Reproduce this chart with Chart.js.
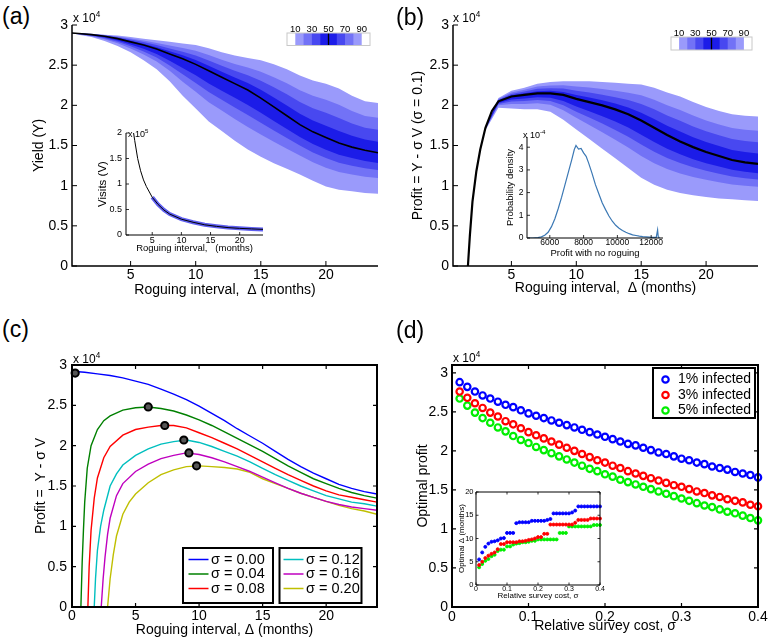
<!DOCTYPE html>
<html><head><meta charset="utf-8"><title>Roguing interval figure</title>
<script src="https://cdn.jsdelivr.net/npm/chart.js@4.4.1/dist/chart.umd.min.js"></script>
<style>
html,body{margin:0;padding:0;background:#fff;}
#wrap{position:relative;width:770px;height:642px;overflow:hidden;background:#fff;font-family:'Liberation Sans',Arial,sans-serif;color:#000;}
#wrap canvas{position:absolute;}
.t{position:absolute;white-space:pre;line-height:1;color:#000;}
.t sup{font-size:0.68em;vertical-align:0.6em;line-height:0;}
</style></head><body><div id="wrap"></div>
<script>
// ---------------- DATA ----------------
// Panel (a): yield percentiles (x 10^4) vs roguing interval
const monthsA = [0.5,1,2,3,4,5,6,7,8,9,10,11,12,13,14,15,16,17,18,19,20,21,22,23,24];
const yieldP90 = [2.90,2.90,2.89,2.88,2.87,2.85,2.83,2.81,2.79,2.77,2.75,2.71,2.66,2.62,2.59,2.56,2.51,2.45,2.37,2.31,2.27,2.21,2.12,2.05,2.03];
const yieldP80 = [2.90,2.90,2.887,2.874,2.858,2.832,2.806,2.777,2.745,2.713,2.678,2.626,2.567,2.515,2.470,2.419,2.351,2.276,2.187,2.118,2.069,2.006,1.928,1.867,1.844];
const yieldP70 = [2.90,2.897,2.885,2.869,2.848,2.818,2.787,2.751,2.709,2.667,2.620,2.559,2.493,2.431,2.374,2.306,2.224,2.137,2.041,1.964,1.908,1.843,1.774,1.721,1.695];
const yieldP60 = [2.90,2.896,2.882,2.864,2.839,2.803,2.768,2.724,2.673,2.622,2.563,2.492,2.418,2.347,2.278,2.193,2.097,1.998,1.894,1.811,1.747,1.680,1.621,1.574,1.546];
const yieldP50 = [2.90,2.895,2.88,2.86,2.83,2.79,2.75,2.70,2.64,2.58,2.51,2.43,2.35,2.27,2.19,2.09,1.98,1.87,1.76,1.67,1.60,1.53,1.48,1.44,1.41];
const yieldP40 = [2.90,2.891,2.872,2.845,2.808,2.758,2.703,2.638,2.555,2.465,2.373,2.273,2.183,2.093,2.005,1.908,1.805,1.705,1.605,1.518,1.448,1.385,1.343,1.308,1.283];
const yieldP30 = [2.90,2.889,2.867,2.835,2.792,2.735,2.670,2.595,2.497,2.387,2.279,2.165,2.069,1.972,1.879,1.783,1.686,1.593,1.500,1.414,1.344,1.286,1.249,1.217,1.196];
const yieldP20 = [2.90,2.886,2.861,2.823,2.774,2.709,2.632,2.545,2.429,2.295,2.169,2.039,1.935,1.830,1.731,1.637,1.546,1.461,1.376,1.292,1.222,1.170,1.139,1.111,1.094];
const yieldP10 = [2.90,2.88,2.85,2.80,2.74,2.66,2.56,2.45,2.30,2.12,1.96,1.80,1.68,1.56,1.45,1.36,1.28,1.21,1.14,1.06,0.99,0.95,0.93,0.91,0.90];
// Inset (a): visits (x 10^5)
const visitsX = [1.8,2,2.5,3,3.5,4,5,6,7,8,10,12,14,16,18,20,22,24];
const visitsV = [2.0,1.85,1.50,1.26,1.08,0.95,0.74,0.60,0.49,0.41,0.31,0.25,0.20,0.17,0.145,0.13,0.12,0.11];

// Panel (b): profit percentiles (x 10^4), sigma = 0.1
const medianBX = [1.65,1.8,2,2.3,2.6,3,3.5,4,5,6,7,8,9,10,11,12,13,14,15,16,17,18,19,20,21,22,23,24];
const medianBY = [0,0.38,0.80,1.18,1.45,1.72,1.93,2.05,2.11,2.13,2.15,2.15,2.13,2.08,2.04,2.00,1.95,1.89,1.81,1.72,1.63,1.55,1.48,1.42,1.37,1.32,1.29,1.27];
const monthsB = [3,4,5,6,7,8,9,10,11,12,13,14,15,16,17,18,19,20,21,22,23,24];
const profitP90 = [1.73,2.09,2.18,2.22,2.27,2.29,2.30,2.30,2.30,2.29,2.28,2.27,2.26,2.22,2.16,2.11,2.04,1.98,1.93,1.89,1.87,1.86];
const profitP80 = [1.727,2.078,2.159,2.193,2.234,2.248,2.249,2.234,2.222,2.203,2.181,2.156,2.125,2.070,2.001,1.942,1.872,1.812,1.762,1.719,1.696,1.683];
const profitP70 = [1.725,2.068,2.142,2.171,2.205,2.214,2.208,2.181,2.160,2.133,2.102,2.065,2.017,1.950,1.874,1.808,1.738,1.678,1.628,1.582,1.557,1.541];
const profitP60 = [1.722,2.059,2.125,2.150,2.176,2.181,2.167,2.128,2.097,2.064,2.023,1.974,1.909,1.830,1.747,1.673,1.603,1.543,1.493,1.445,1.418,1.400];
const profitP50 = [1.72,2.05,2.11,2.13,2.15,2.15,2.13,2.08,2.04,2.00,1.95,1.89,1.81,1.72,1.63,1.55,1.48,1.42,1.37,1.32,1.29,1.27];
const profitP40 = [1.713,2.030,2.073,2.085,2.100,2.093,2.053,1.985,1.925,1.865,1.798,1.723,1.633,1.543,1.460,1.390,1.330,1.280,1.238,1.198,1.173,1.155];
const profitP30 = [1.707,2.016,2.047,2.054,2.066,2.053,2.000,1.920,1.847,1.773,1.694,1.609,1.512,1.422,1.344,1.281,1.228,1.185,1.147,1.114,1.093,1.077];
const profitP20 = [1.701,2.000,2.017,2.018,2.026,2.007,1.938,1.844,1.755,1.665,1.572,1.475,1.370,1.280,1.208,1.153,1.108,1.073,1.041,1.016,1.000,0.985];
const profitP10 = [1.69,1.97,1.96,1.95,1.95,1.92,1.82,1.70,1.58,1.46,1.34,1.22,1.10,1.01,0.95,0.91,0.88,0.86,0.84,0.83,0.82,0.81];
// Inset (b): histogram of profit with no roguing (density x 10^-4)
const noRogueProfit = [4700,5000,5300,5500,5700,5900,6100,6300,6500,6700,6900,7100,7300,7450,7550,7700,7850,8000,8150,8300,8500,8700,8900,9100,9300,9500,9700,9900,10100,10300,10500,10700,10900,11100,11300,11500,11700,11900,12100,12300,12380,12420,12460,12500];
const noRogueDensity = [0,0,0.02,0.05,0.12,0.25,0.5,0.85,1.3,1.8,2.35,2.9,3.45,3.9,4.08,3.92,3.95,3.75,3.6,3.3,2.85,2.35,1.95,1.55,1.25,0.97,0.74,0.56,0.43,0.33,0.25,0.19,0.14,0.11,0.08,0.06,0.05,0.04,0.03,0.03,0.36,0.05,0.02,0];

// Panel (c): profit curves for several survey costs (x 10^4)
const sigmaLabels = ['σ = 0.00','σ = 0.04','σ = 0.08','σ = 0.12','σ = 0.16','σ = 0.20'];
const tail = [10,11,12,13,14,15,16,17,18,19,20,21,22,23,24];
const s000X = [0.25,1,2,3,4,5,6,7,8,9].concat(tail);
const s000Y = [2.92,2.91,2.89,2.87,2.84,2.80,2.76,2.70,2.64,2.57,2.49,2.40,2.31,2.21,2.12,2.03,1.93,1.83,1.74,1.66,1.59,1.52,1.47,1.43,1.40];
const s004X = [0.7,0.8,0.9,1.0,1.2,1.5,2,2.5,3,4,5,6,7,8,9].concat(tail);
const s004Y = [0,0.55,0.95,1.3,1.72,2.0,2.2,2.31,2.37,2.44,2.47,2.48,2.46,2.43,2.38,2.32,2.25,2.17,2.09,2.01,1.93,1.84,1.75,1.67,1.59,1.53,1.47,1.42,1.38,1.35];
const s008X = [1.25,1.35,1.5,1.75,2,2.5,3,4,5,6,7,8,9].concat(tail);
const s008Y = [0,0.5,0.95,1.35,1.6,1.85,1.99,2.13,2.20,2.23,2.25,2.25,2.22,2.16,2.10,2.03,1.96,1.88,1.80,1.72,1.64,1.57,1.50,1.44,1.39,1.36,1.33,1.30];
const s012X = [1.75,1.85,2,2.25,2.5,3,3.5,4,5,6,7,8,9].concat(tail);
const s012Y = [0,0.35,0.7,1.0,1.2,1.5,1.65,1.76,1.88,1.96,2.02,2.05,2.07,2.04,1.99,1.93,1.87,1.80,1.72,1.64,1.57,1.50,1.44,1.38,1.34,1.30,1.28,1.25];
const s016X = [2.3,2.45,2.6,2.8,3,3.5,4,5,6,7,8,9].concat(tail);
const s016Y = [0,0.35,0.62,0.9,1.1,1.38,1.53,1.68,1.77,1.84,1.88,1.91,1.89,1.85,1.80,1.74,1.68,1.61,1.54,1.47,1.41,1.36,1.31,1.27,1.24,1.22,1.20];
const s020X = [2.8,3,3.25,3.5,4,4.5,5,6,7,8,9].concat(tail);
const s020Y = [0,0.35,0.65,0.88,1.15,1.30,1.40,1.54,1.64,1.70,1.74,1.75,1.74,1.73,1.71,1.67,1.59,1.53,1.47,1.41,1.36,1.31,1.26,1.22,1.19,1.15];
const optimaX = [0.25,6,7.3,8.8,9.2,9.8];
const optimaY = [2.90,2.48,2.25,2.07,1.91,1.75];

// Panel (d): optimal profit (x 10^4) vs relative survey cost
const surveyCost = [0.01,0.02,0.03,0.04,0.05,0.06,0.07,0.08,0.09,0.10,0.11,0.12,0.13,0.14,0.15,0.16,0.17,0.18,0.19,0.20,0.21,0.22,0.23,0.24,0.25,0.26,0.27,0.28,0.29,0.30,0.31,0.32,0.33,0.34,0.35,0.36,0.37,0.38,0.39,0.40];
const infLabels = ['1% infected','3% infected','5% infected'];
const optProfit1 = [2.88,2.82,2.76,2.71,2.67,2.63,2.59,2.56,2.52,2.48,2.45,2.42,2.39,2.36,2.33,2.30,2.27,2.24,2.21,2.18,2.15,2.12,2.09,2.07,2.04,2.01,1.98,1.96,1.93,1.90,1.88,1.85,1.83,1.80,1.78,1.76,1.73,1.71,1.69,1.66];
const optProfit3 = [2.76,2.68,2.61,2.55,2.49,2.44,2.38,2.34,2.29,2.24,2.20,2.16,2.12,2.08,2.04,2.00,1.96,1.92,1.88,1.85,1.81,1.78,1.74,1.71,1.68,1.65,1.62,1.59,1.56,1.54,1.51,1.48,1.46,1.43,1.41,1.38,1.36,1.34,1.31,1.29];
const optProfit5 = [2.67,2.58,2.49,2.42,2.36,2.30,2.25,2.19,2.14,2.10,2.05,2.01,1.97,1.93,1.89,1.85,1.81,1.77,1.74,1.70,1.67,1.63,1.60,1.57,1.54,1.51,1.48,1.45,1.42,1.39,1.36,1.33,1.30,1.28,1.25,1.22,1.20,1.17,1.14,1.11];
// Inset (d): optimal interval (months)
const optDelta1 = [5.5,7.0,8.2,8.9,9.3,9.4,9.6,10.0,10.1,11.2,11.2,11.2,13.3,13.5,13.5,13.5,13.5,13.8,13.8,13.8,13.8,13.8,14.0,14.2,15.4,15.4,15.4,15.4,15.4,15.4,15.6,16.0,16.9,16.9,16.9,16.9,16.9,16.9,16.9,16.9];
const optDelta3 = [4.3,5.0,5.8,6.3,6.7,7.0,7.7,8.8,8.8,9.2,9.2,9.2,9.2,9.4,9.4,9.5,9.7,9.8,10.0,10.3,10.3,11.0,11.0,13.0,13.0,13.0,13.0,13.0,13.0,13.0,13.0,13.4,14.0,14.0,14.0,14.0,14.3,14.3,14.3,14.3];
const optDelta5 = [3.8,4.5,5.2,5.6,6.2,6.5,7.3,7.6,7.6,8.3,8.3,8.7,8.9,9.0,9.2,9.2,9.3,9.5,9.5,9.8,9.8,9.8,9.8,9.8,9.8,9.8,11.2,11.2,11.2,12.6,12.6,12.6,12.6,12.6,12.6,12.6,12.6,12.9,12.9,12.9];

// ---------------- STYLE ----------------
const FF = "'Liberation Sans', Arial, Helvetica, sans-serif";
Chart.defaults.font.family = FF;
const C1 = '#9a9afb', C2 = '#7272f6', C3 = '#4848f0', C4 = '#1c1ce8';
const cColors = ['#0000ff','#008000','#ff0000','#00bfbf','#bf00bf','#bfbf00'];
const dColors = ['#0000ff','#ff0000','#00ee00'];
const WRAP = document.getElementById('wrap');

function pts(xs, ys){ return xs.map((x,i)=>({x:x, y:ys[i]})); }

function mkScale(s, axis, size){
  return {
    type:'linear', position: axis==='x' ? 'bottom' : 'left', min:s.min, max:s.max,
    afterBuildTicks: sc => { sc.ticks = s.ticks.map(v=>({value:v})); },
    afterFit: sc => { if(axis==='x') sc.height = size; else sc.width = size; },
    grid:{display:false, drawTicks:false}, border:{display:false},
    ticks:{color:'#000', font:{family:FF, size:s.size}, padding:s.pad, autoSkip:false, maxRotation:0, minRotation:0,
      callback:(v)=>String(v)},
    title:{display:!!s.title, text:s.title, color:'#000', font:{family:FF, size:s.tsize}, padding:0}
  };
}

function drawAxes(chart, o){
  const ctx = chart.ctx, a = chart.chartArea, xs = chart.scales.x, ys = chart.scales.y;
  ctx.save();
  ctx.strokeStyle = '#000'; ctx.lineWidth = o.lw;
  ctx.beginPath();
  if(o.box){ ctx.rect(a.left, a.top, a.right-a.left, a.bottom-a.top); }
  else { ctx.moveTo(a.left, a.top); ctx.lineTo(a.left, a.bottom); ctx.lineTo(a.right, a.bottom); }
  ctx.stroke();
  ctx.lineWidth = o.tlw; ctx.beginPath();
  xs.ticks.forEach(t=>{ const p = xs.getPixelForValue(t.value);
    ctx.moveTo(p, a.bottom); ctx.lineTo(p, a.bottom-o.tick);
    if(o.box){ ctx.moveTo(p, a.top); ctx.lineTo(p, a.top+o.tick); } });
  ys.ticks.forEach(t=>{ const p = ys.getPixelForValue(t.value);
    ctx.moveTo(a.left, p); ctx.lineTo(a.left+o.tick, p);
    if(o.box){ ctx.moveTo(a.right, p); ctx.lineTo(a.right-o.tick, p); } });
  ctx.stroke();
  ctx.restore();
}

function build(spec){
  const [l,t,w,h] = spec.rect, [x0,y0,x1,y1] = spec.plot;
  const cv = document.createElement('canvas');
  cv.width = w; cv.height = h;
  cv.style.left = l+'px'; cv.style.top = t+'px'; cv.style.width = w+'px'; cv.style.height = h+'px';
  WRAP.appendChild(cv);
  const cfg = {
    type:'line',
    data:{datasets:spec.datasets},
    options:{
      responsive:false, animation:false, devicePixelRatio:1,
      layout:{padding:{left:0, top:y0-t, right:l+w-x1, bottom:0}},
      plugins:{legend:{display:false}, tooltip:{enabled:false}},
      elements:{point:{radius:0}, line:{tension:0}},
      scales:{ x: mkScale(spec.x,'x', t+h-y1), y: mkScale(spec.y,'y', x0-l) }
    },
    plugins:[{
      id:'deco',
      beforeDatasetsDraw(chart){ if(spec.whiteBg){ const a=chart.chartArea; chart.ctx.save(); chart.ctx.fillStyle='#fff'; chart.ctx.fillRect(a.left,a.top,a.right-a.left,a.bottom-a.top); chart.ctx.restore(); } },
      afterDraw(chart){ drawAxes(chart, spec.axes); if(spec.extra){ chart.ctx.save(); spec.extra(chart.ctx, l, t); chart.ctx.restore(); } }
    }]
  };
  return new Chart(cv, cfg);
}

function bandSets(xs, P){
  const e = {borderColor:'rgba(0,0,0,0)', borderWidth:0, pointRadius:0};
  return [
    Object.assign({data:pts(xs,P[5]), fill:'+1', backgroundColor:C4, order:1}, e),
    Object.assign({data:pts(xs,P[3]), fill:false, order:1}, e),
    Object.assign({data:pts(xs,P[6]), fill:'+1', backgroundColor:C3, order:2}, e),
    Object.assign({data:pts(xs,P[2]), fill:false, order:2}, e),
    Object.assign({data:pts(xs,P[7]), fill:'+1', backgroundColor:C2, order:3}, e),
    Object.assign({data:pts(xs,P[1]), fill:false, order:3}, e),
    Object.assign({data:pts(xs,P[8]), fill:'+1', backgroundColor:C1, order:4}, e),
    Object.assign({data:pts(xs,P[0]), fill:false, order:4}, e)
  ];
}

function colorbar(ctx, x, y, w, h){
  const cols = ['#ffffff', C1, C2, C3, C4, C4, C3, C2, C1, '#ffffff'];
  cols.forEach((c,i)=>{ ctx.fillStyle = c; ctx.fillRect(x + i*w/10, y, w/10 + 0.6, h); });
  ctx.strokeStyle = '#000'; ctx.lineWidth = 1.3;
  ctx.beginPath(); ctx.moveTo(x + w/2, y); ctx.lineTo(x + w/2, y + h); ctx.stroke();
  ctx.strokeStyle = '#c8c8c8'; ctx.lineWidth = 1; ctx.strokeRect(x, y, w, h);
  ctx.fillStyle = '#000'; ctx.font = '9.5px ' + FF; ctx.textAlign = 'center'; ctx.textBaseline = 'alphabetic';
  [10,30,50,70,90].forEach(p=>ctx.fillText(String(p), x + w*p/100, y - 1.5));
}

function txt(html, l, t, size){
  const d = document.createElement('div'); d.className = 't';
  d.style.left = l+'px'; d.style.top = t+'px'; d.style.fontSize = size+'px';
  d.innerHTML = html; WRAP.appendChild(d);
}

// ---------------- PANEL (a) ----------------
build({
  rect:[31,0,354,299], plot:[72,25,378,266],
  x:{min:0.5,max:24,ticks:[5,10,15,20],size:14,pad:1,title:'Roguing interval,  \u0394 (months)',tsize:14},
  y:{min:0,max:3,ticks:[0,0.5,1,1.5,2,2.5,3],size:14,pad:4,title:'Yield (Y)',tsize:14},
  axes:{lw:1.5,tick:5,tlw:1,box:false},
  datasets:[{data:pts(monthsA,yieldP50), borderColor:'#000', borderWidth:1.6, fill:false, order:0}]
    .concat(bandSets(monthsA,[yieldP10,yieldP20,yieldP30,yieldP40,yieldP50,yieldP60,yieldP70,yieldP80,yieldP90])),
  extra:(ctx,l,t)=>colorbar(ctx, 287-l, 33-t, 83, 12.5)
});
// inset (a)
build({
  rect:[96,120,179,134], plot:[126,133,263,235],
  x:{min:0.5,max:24,ticks:[5,10,15,20],size:9,pad:0,title:'Roguing interval,   (months)',tsize:9.5},
  y:{min:0,max:2,ticks:[0,0.5,1,1.5,2],size:9,pad:4,title:'Visits (V)',tsize:11.5},
  axes:{lw:1,tick:3,tlw:0.8,box:false},
  datasets:[
    {data:pts(visitsX,visitsV), borderColor:'#000', borderWidth:1, fill:false, order:0},
    {data:pts(visitsX.slice(6),visitsV.slice(6)), borderColor:'rgba(40,40,235,0.75)', borderWidth:4, fill:false, order:1}
  ]
});

// ---------------- PANEL (b) ----------------
build({
  rect:[410,0,360,297], plot:[453,25,758,266],
  x:{min:0.5,max:24,ticks:[5,10,15,20],size:14,pad:1,title:'Roguing interval,  \u0394 (months)',tsize:14},
  y:{min:0,max:3,ticks:[0,0.5,1,1.5,2,2.5,3],size:14,pad:4,title:'Profit = Y - \u03C3 V (\u03C3 = 0.1)',tsize:14},
  axes:{lw:1.5,tick:5,tlw:1,box:false},
  datasets:[{data:pts(medianBX,medianBY), borderColor:'#000', borderWidth:2.2, fill:false, order:0}]
    .concat(bandSets(monthsB,[profitP10,profitP20,profitP30,profitP40,profitP50,profitP60,profitP70,profitP80,profitP90])),
  extra:(ctx,l,t)=>colorbar(ctx, 671-l, 37-t, 81, 13)
});
// inset (b)
build({
  rect:[505,120,170,139], plot:[527,137,663,238],
  x:{min:4650,max:12700,ticks:[6000,8000,10000,12000],size:8.5,pad:0,title:'Profit with no roguing',tsize:9.5},
  y:{min:0,max:4.45,ticks:[0,1,2,3,4],size:8.5,pad:3.5,title:'Probability density',tsize:9.5},
  axes:{lw:1,tick:3,tlw:0.8,box:false},
  datasets:[{data:pts(noRogueProfit,noRogueDensity), borderColor:'#3b78b4', borderWidth:1.2, fill:false}]
});

// ---------------- PANEL (c) ----------------
const cX = [s000X,s004X,s008X,s012X,s016X,s020X], cY = [s000Y,s004Y,s008Y,s012Y,s016Y,s020Y];
build({
  rect:[33,340,352,299], plot:[72,365,377,607],
  x:{min:0,max:24,ticks:[0,5,10,15,20],size:14,pad:1,title:'Roguing interval, \u0394 (months)',tsize:14},
  y:{min:0,max:3,ticks:[0,0.5,1,1.5,2,2.5,3],size:14,pad:5,title:'Profit =  Y - \u03C3 V',tsize:14},
  axes:{lw:2,tick:4,tlw:1.2,box:true},
  datasets:[{data:pts(optimaX,optimaY), showLine:false, pointRadius:3.6, pointBorderWidth:2, pointBorderColor:'#000', pointBackgroundColor:'#555', order:0, clip:false}]
    .concat(cX.map((xs,i)=>({data:pts(xs,cY[i]), borderColor:cColors[i], borderWidth:1.4, fill:false, order:1}))),
  extra:(ctx,l,t)=>{
    const boxes = [[183,548,90,55],[279.5,548,82,55]];
    ctx.lineWidth = 2; ctx.strokeStyle = '#000'; ctx.fillStyle = '#fff';
    boxes.forEach(b=>{ ctx.fillRect(b[0]-l,b[1]-t,b[2],b[3]); ctx.strokeRect(b[0]-l,b[1]-t,b[2],b[3]); });
    const rows = [559.5,574,588.5];
    ctx.font = '14.5px ' + FF; ctx.textBaseline = 'middle'; ctx.textAlign = 'left';
    sigmaLabels.forEach((lab,i)=>{
      const col = i<3 ? 0 : 1, y = rows[i%3] - t;
      const lx = (col ? 283.5 : 188.5) - l;
      ctx.strokeStyle = cColors[i]; ctx.lineWidth = 1.5;
      ctx.beginPath(); ctx.moveTo(lx, y); ctx.lineTo(lx+20, y); ctx.stroke();
      ctx.fillStyle = '#000'; ctx.fillText(lab, lx+22.5, y);
    });
  }
});

// ---------------- PANEL (d) ----------------
const dY = [optProfit1, optProfit3, optProfit5];
build({
  rect:[415,340,355,295], plot:[452,365,758,607],
  x:{min:0,max:0.4,ticks:[0,0.1,0.2,0.3,0.4],size:14,pad:1.3,title:'Relative survey cost, \u03C3',tsize:14},
  y:{min:0,max:3.1,ticks:[0,0.5,1,1.5,2,2.5,3],size:14,pad:4,title:'Optimal profit',tsize:14},
  axes:{lw:2,tick:4,tlw:1.2,box:true},
  datasets: dY.map((ys,i)=>({data:pts(surveyCost,ys), showLine:false, pointRadius:3.2, pointBorderWidth:2.2,
    pointBorderColor:dColors[i], pointBackgroundColor:'rgba(255,255,255,0)', clip:false})),
  extra:(ctx,l,t)=>{
    ctx.fillStyle = '#fff'; ctx.fillRect(653-l,368-t,102,50);
    ctx.strokeStyle = '#000'; ctx.lineWidth = 2; ctx.strokeRect(653-l,368-t,102,50);
    const rows = [379.5,395,410.5];
    ctx.font = '14px ' + FF; ctx.textBaseline = 'middle'; ctx.textAlign = 'left';
    infLabels.forEach((lab,i)=>{
      ctx.strokeStyle = dColors[i]; ctx.lineWidth = 2.2;
      ctx.beginPath(); ctx.arc(665.5-l, rows[i]-t, 3.2, 0, Math.PI*2); ctx.stroke();
      ctx.fillStyle = '#000'; ctx.fillText(lab, 678-l, rows[i]-t);
    });
  }
});
// inset (d)
build({
  rect:[457,480,153,121], plot:[476,492,600,585],
  x:{min:0,max:0.4,ticks:[0,0.1,0.2,0.3,0.4],size:7,pad:0,title:'Relative survey cost, \u03C3',tsize:8},
  y:{min:0,max:20,ticks:[0,5,10,15,20],size:7.5,pad:2.5,title:'Optimal \u0394 (months)',tsize:8},
  axes:{lw:1,tick:2.5,tlw:0.8,box:true}, whiteBg:true,
  datasets: [optDelta1,optDelta3,optDelta5].map((ys,i)=>({data:pts(surveyCost,ys), showLine:false, pointRadius:1.5,
    pointBorderWidth:0.9, pointBorderColor:dColors[i], pointBackgroundColor:dColors[i], clip:false}))
});

// ---------------- TEXT OVERLAYS ----------------
txt('(a)', 2, 5, 23); txt('(b)', 396, 6, 23); txt('(c)', 2, 318, 23); txt('(d)', 396, 319, 23);
txt('x 10<sup>4</sup>', 73, 12, 12);
txt('x 10<sup>4</sup>', 453, 12, 12);
txt('x 10<sup>4</sup>', 73, 353, 12);
txt('x 10<sup>4</sup>', 453, 352, 12);
txt('x 10<sup>5</sup>', 128, 130, 9);
txt('x 10<sup>-4</sup>', 523, 131, 9);
</script>
</body></html>
